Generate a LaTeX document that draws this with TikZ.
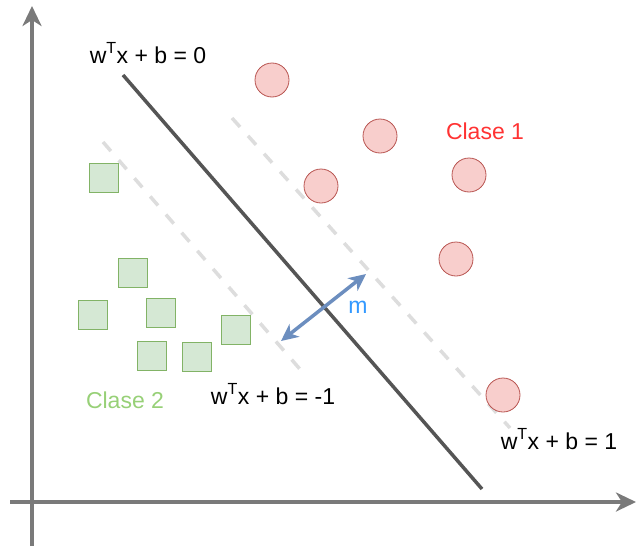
\documentclass[tikz,border=0pt]{standalone}
\usepackage{fontspec}
\setmainfont{Liberation Sans}
\usetikzlibrary{arrows.meta}
\definecolor{axisgray}{HTML}{7A7A7A}
\definecolor{linegray}{HTML}{555555}
\definecolor{dashgray}{HTML}{DDDDDD}
\definecolor{redfill}{HTML}{F8CECC}
\definecolor{redline}{HTML}{B85450}
\definecolor{greenfill}{HTML}{D5E8D4}
\definecolor{greenline}{HTML}{82B366}
\definecolor{bluearrow}{HTML}{6C8EBF}
\definecolor{bluetext}{HTML}{3399FF}
\definecolor{redtext}{HTML}{FF3333}
\definecolor{greentext}{HTML}{97D077}
\tikzset{
  axisline/.style={draw=axisgray, line width=3.5pt, -{Stealth[length=20pt,width=19pt,inset=6pt]}},
  mainline/.style={draw=linegray, line width=3.5pt},
  marginline/.style={draw=dashgray, line width=3.5pt, dash pattern=on 12pt off 12pt},
  classone/.style={circle, draw=redline, fill=redfill, line width=0.8pt, minimum size=34pt, inner sep=0pt},
  classtwo/.style={rectangle, draw=greenline, fill=greenfill, line width=0.8pt, minimum size=29pt, inner sep=0pt},
  lbl/.style={inner sep=0pt, anchor=base, font=\fontsize{23}{27}\selectfont},
  marrow/.style={draw=bluearrow, line width=3.5pt, {Stealth[length=17pt,width=16pt,inset=5pt]}-{Stealth[length=17pt,width=16pt,inset=5pt]}},
}
\begin{document}
\begin{tikzpicture}[x=1pt,y=-1pt]
\useasboundingbox (0,0) rectangle (636,546);
% axes
\coordinate (yb) at (32,546);
\coordinate (yt) at (32,6);
\coordinate (xl) at (10,502);
\coordinate (xr) at (636,502);
\draw[axisline] (yb) -- (yt);
\draw[axisline] (xl) -- (xr);
% margin lines
\coordinate (p1a) at (232,118);
\coordinate (p1b) at (510,428);
\coordinate (m1a) at (103,142);
\coordinate (m1b) at (305,375);
\draw[marginline] (p1a) -- (p1b);
\draw[marginline] (m1a) -- (m1b);
% hyperplane
\coordinate (ha) at (123,75);
\coordinate (hb) at (482,489);
\draw[mainline] (ha) -- (hb);
% class 1
\node[classone] (c1) at (272,80) {};
\node[classone] (c2) at (380,136) {};
\node[classone] (c3) at (321,186) {};
\node[classone] (c4) at (469,175) {};
\node[classone] (c5) at (456,259) {};
\node[classone] (c6) at (503,395) {};
% class 2
\node[classtwo] (s1) at (104,178) {};
\node[classtwo] (s2) at (133,273) {};
\node[classtwo] (s3) at (93,315) {};
\node[classtwo] (s4) at (161,313) {};
\node[classtwo] (s5) at (236,330) {};
\node[classtwo] (s6) at (152,356) {};
\node[classtwo] (s7) at (197,357) {};
% margin arrow
\coordinate (ma) at (281,341);
\coordinate (mb) at (366,274);
\draw[marrow] (ma) -- (mb);
\node[lbl, text=bluetext] (mlabel) at (358,313) {m};
% labels
\node[lbl] (l0) at (148,63) {w\textsuperscript{T}x + b = 0};
\node[lbl] (lm1) at (273,404) {w\textsuperscript{T}x + b = -1};
\node[lbl] (lp1) at (559,449) {w\textsuperscript{T}x + b = 1};
\node[lbl, text=redtext] (k1) at (485,139) {Clase 1};
\node[lbl, text=greentext] (k2) at (125,408) {Clase 2};
\end{tikzpicture}
\end{document}
